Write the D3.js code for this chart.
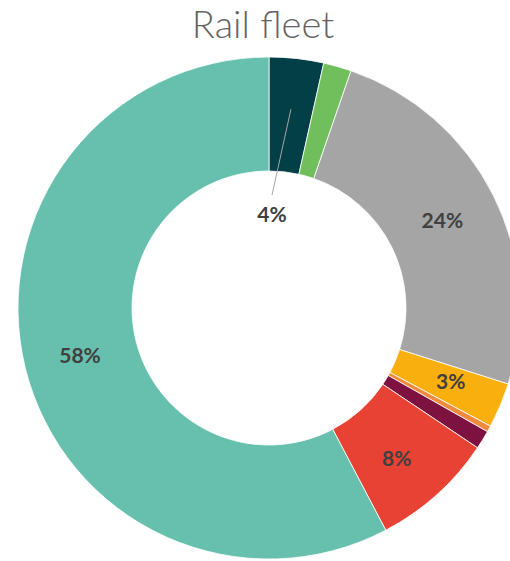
<!DOCTYPE html>
<meta charset="utf-8">
<style>
body { margin: 0; background: #fff; }
svg { display: block; }
.title { font-family: 'Lato', sans-serif; font-weight: 300; font-size: 38px; fill: #636363; }
.lbl { font-family: 'Lato', sans-serif; font-weight: 700; font-size: 21px; fill: #404040; }
</style>
<svg width="510" height="561"></svg>
<script src="https://d3js.org/d3.v7.min.js"></script>
<script>

// slices clockwise from 12 o'clock, values in % of fleet
var categories = ["A", "B", "C", "D", "E", "F", "G", "H"];
var shares = [3.5, 1.8, 24.6, 2.9, 0.4, 1.2, 7.9, 57.7];
var labels = ["4%", "", "24%", "3%", "", "", "8%", "58%"];
var colors = ["#023f47", "#70bf5c", "#a5a5a5", "#f9b00f", "#f08a3c", "#7d1140", "#e84234", "#66c0ad"];

var svg = d3.select("svg"),
    cx = 269, cy = 308,
    outerR = 251, innerR = 137;

svg.append("text")
    .attr("class", "title")
    .attr("x", 263)
    .attr("y", 38)
    .attr("text-anchor", "middle")
    .text("Rail fleet");

var pie = d3.pie().sort(null).value(function(d) { return d; });
var arcs = pie(shares);

var arc = d3.arc().innerRadius(innerR).outerRadius(outerR);
var labelArc = d3.arc().innerRadius(194).outerRadius(194);

var g = svg.append("g").attr("transform", "translate(" + cx + "," + cy + ")");

g.selectAll("path.slice")
    .data(arcs)
    .enter().append("path")
    .attr("class", "slice")
    .attr("d", arc)
    .attr("fill", function(d, i) { return colors[i]; })
    .attr("stroke", "#fff")
    .attr("stroke-width", 0.8);

// label positions: small first slice is pulled into the hole with a leader line
function labelPos(d, i) {
    var p = labelArc.centroid(d);
    if (i === 0) return [3, -93];
    if (i === 7) return [-189, 48];
    if (i === 3) return [p[0] + 3, p[1] - 2];
    if (i === 6) return [p[0] - 2, p[1] + 6];
    return p;
}

var first = arcs[0];
var start = d3.arc().innerRadius(200).outerRadius(200).centroid(first);
g.append("line")
    .attr("x1", start[0])
    .attr("y1", start[1])
    .attr("x2", 3)
    .attr("y2", -113)
    .attr("stroke", "#a6a6a6")
    .attr("stroke-width", 1);

g.selectAll("text.lbl")
    .data(arcs)
    .enter().append("text")
    .attr("class", "lbl")
    .attr("text-anchor", "middle")
    .attr("dy", "0.35em")
    .attr("transform", function(d, i) { return "translate(" + labelPos(d, i) + ")"; })
    .text(function(d, i) { return labels[i]; });

</script>
